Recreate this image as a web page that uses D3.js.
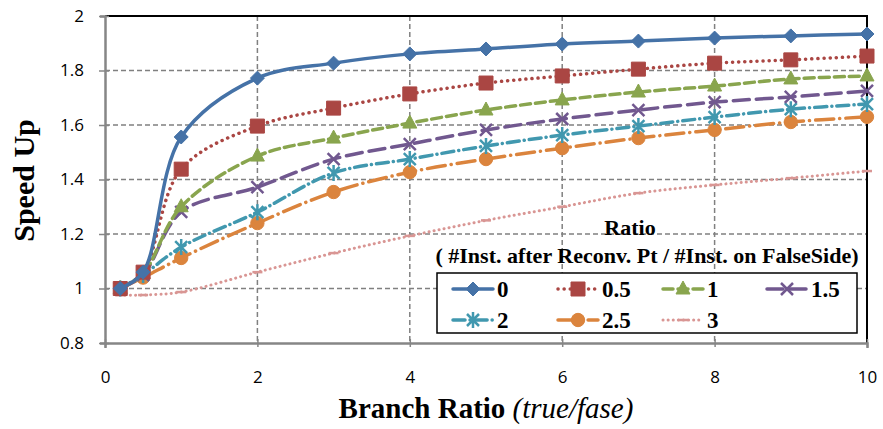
<!DOCTYPE html>
<html>
<head>
<meta charset="utf-8">
<script src="https://cdn.jsdelivr.net/npm/d3@7"></script>
<style>
  body { margin: 0; background: #fff; }
  svg { display: block; }
</style>
</head>
<body>
<script>
// data
const branchRatio = [0.2, 0.5, 1, 2, 3, 4, 5, 6, 7, 8, 9, 10];
const seriesNames = ["0", "0.5", "1", "1.5", "2", "2.5", "3"];
const s0  = [1.0, 1.06, 1.556, 1.772, 1.827, 1.861, 1.879, 1.897, 1.908, 1.919, 1.927, 1.934];
const s05 = [1.0, 1.06, 1.438, 1.596, 1.662, 1.714, 1.754, 1.780, 1.805, 1.827, 1.839, 1.853];
const s1  = [1.0, 1.055, 1.30, 1.486, 1.552, 1.607, 1.655, 1.692, 1.721, 1.743, 1.769, 1.780];
const s15 = [1.0, 1.05, 1.281, 1.372, 1.475, 1.530, 1.582, 1.622, 1.655, 1.684, 1.703, 1.725];
const s2  = [1.0, 1.05, 1.152, 1.280, 1.424, 1.475, 1.523, 1.563, 1.596, 1.629, 1.658, 1.677];
const s25 = [1.0, 1.04, 1.112, 1.240, 1.354, 1.427, 1.475, 1.515, 1.552, 1.582, 1.611, 1.630];
const s3  = [0.975, 0.976, 0.987, 1.06, 1.13, 1.193, 1.25, 1.30, 1.35, 1.38, 1.405, 1.431];
const seriesValues = [s0, s05, s1, s15, s2, s25, s3];
const xTicks = [0, 2, 4, 6, 8, 10];
const yTicks = [0.8, 1, 1.2, 1.4, 1.6, 1.8, 2];

const colors = ["#4572A7", "#AA4643", "#89A54E", "#71588F", "#4198AF", "#DB843D", "#D99694"];
const dashes = ["none", "0.1 6", "10 5", "16 7", "12 5 0.1 5", "18 6 0.1 6", "0.1 5"];
const markers = ["diamond", "square", "triangle", "x", "star", "circle", "dash"];

const W = 883, H = 429;
const plot = { left: 105, right: 867, top: 16, bottom: 343 };
const serif = "'Liberation Serif', 'Times New Roman', serif";

const svg = d3.select("body").append("svg").attr("width", W).attr("height", H);

const x = d3.scaleLinear().domain([0, 10]).range([plot.left, plot.right]);
const y = d3.scaleLinear().domain([0.8, 2]).range([plot.bottom, plot.top]);

// grid
const grid = svg.append("g");
grid.selectAll("line.vg").data(xTicks.filter(d => d > 0 && d < 10)).join("line")
  .attr("x1", d => x(d)).attr("x2", d => x(d))
  .attr("y1", plot.top).attr("y2", plot.bottom)
  .attr("stroke", "#808080").attr("stroke-width", 1.5).attr("stroke-dasharray", "5 3");
grid.selectAll("line.hg").data(yTicks.filter(d => d > 0.8 && d < 2)).join("line")
  .attr("x1", plot.left).attr("x2", plot.right)
  .attr("y1", d => y(d)).attr("y2", d => y(d))
  .attr("stroke", "#808080").attr("stroke-width", 1.5).attr("stroke-dasharray", "5 3");

// top / right border
svg.append("path")
  .attr("d", `M${plot.left},${plot.top}H${plot.right}V${plot.bottom}`)
  .attr("fill", "none").attr("stroke", "#000").attr("stroke-width", 2);

// axes
const xAxis = svg.append("g").attr("transform", `translate(0,${plot.bottom})`)
  .call(d3.axisBottom(x).tickValues(xTicks).tickSize(5).tickPadding(23).tickFormat(d3.format("d")));
const yAxis = svg.append("g").attr("transform", `translate(${plot.left},0)`)
  .call(d3.axisLeft(y).tickValues(yTicks).tickSize(5).tickPadding(16).tickFormat(d => d === 1 || d === 2 ? d : d3.format(".1f")(d)));
[xAxis, yAxis].forEach(a => {
  a.select(".domain").attr("stroke", "#868686").attr("stroke-width", 2.5);
  a.selectAll(".tick line").attr("stroke", "#868686").attr("stroke-width", 1.5);
  a.selectAll(".tick text").attr("fill", "#000").style("font-family", "'Open Sans', sans-serif").style("font-size", "17px");
});
xAxis.selectAll(".tick line").attr("y1", -4).attr("y2", 4);
yAxis.selectAll(".tick line").attr("x1", 4).attr("x2", -6);

// series
const line = d3.line().x(d => x(d[0])).y(d => y(d[1])).curve(d3.curveCatmullRom.alpha(0.5));

function markerPath(type) {
  switch (type) {
    case "diamond": return "M0,-7L7,0L0,7L-7,0Z";
    case "square": return "M-7,-7H7V7H-7Z";
    case "triangle": return "M0,-8L7,5H-7Z";
    case "x": return "M-6,-6L6,6M-6,6L6,-6";
    case "star": return "M-6,-6L6,6M-6,6L6,-6M0,-8V8";
    case "circle": return d3.symbol(d3.symbolCircle, 140)();
    case "dash": return "M-5,0H5";
  }
}

const seriesG = svg.append("g");
seriesValues.slice().reverse().forEach((vals, ri) => {
  const i = seriesValues.length - 1 - ri;
  const pts = branchRatio.map((b, k) => [b, vals[k]]);
  const g = seriesG.append("g");
  g.append("path").datum(pts).attr("d", line)
    .attr("fill", "none").attr("stroke", colors[i])
    .attr("stroke-width", i === 6 ? 3 : 3.5)
    .attr("stroke-linecap", "round")
    .attr("stroke-dasharray", dashes[i] === "none" ? null : dashes[i]);
  const open = markers[i] === "x" || markers[i] === "star" || markers[i] === "dash";
  g.selectAll("path.m").data(pts).join("path").attr("class", "m")
    .attr("transform", d => `translate(${x(d[0])},${y(d[1])})`)
    .attr("d", markerPath(markers[i]))
    .attr("fill", open ? "none" : colors[i])
    .attr("stroke", colors[i])
    .attr("stroke-width", open ? 2.5 : 1);
});

// axis titles
svg.append("text")
  .attr("transform", `translate(34,${(plot.top + plot.bottom) / 2 + 1}) rotate(-90)`)
  .attr("text-anchor", "middle")
  .style("font-family", serif).style("font-weight", "bold").style("font-size", "30px")
  .text("Speed Up");

const xt = svg.append("text")
  .attr("x", 486).attr("y", 418).attr("text-anchor", "middle")
  .style("font-family", serif).style("font-size", "29px");
xt.append("tspan").style("font-weight", "bold").text("Branch Ratio ");
xt.append("tspan").style("font-style", "italic").text("(true/fase)");

// legend
svg.append("text").attr("x", 630).attr("y", 235).attr("text-anchor", "middle")
  .style("font-family", serif).style("font-weight", "bold").style("font-size", "22px")
  .text("Ratio");
svg.append("text").attr("x", 647).attr("y", 263).attr("text-anchor", "middle")
  .style("font-family", serif).style("font-weight", "bold").style("font-size", "22px")
  .text("( #Inst. after Reconv. Pt / #Inst. on FalseSide)");

svg.append("rect").attr("x", 437).attr("y", 273).attr("width", 420).attr("height", 60)
  .attr("fill", "#fff").attr("stroke", "#000").attr("stroke-width", 1.5);

const colX = [453, 558, 663, 767];
const rowY = [289, 320];
seriesNames.forEach((name, i) => {
  const cx = colX[i % 4], cy = rowY[Math.floor(i / 4)];
  const g = svg.append("g");
  g.append("line").attr("x1", cx).attr("x2", cx + 40).attr("y1", cy).attr("y2", cy)
    .attr("stroke", colors[i]).attr("stroke-width", i === 6 ? 3 : 3.5)
    .attr("stroke-linecap", "round")
    .attr("stroke-dasharray", dashes[i] === "none" ? null : dashes[i]);
  const open = markers[i] === "x" || markers[i] === "star" || markers[i] === "dash";
  g.append("path").attr("transform", `translate(${cx + 20},${cy})`)
    .attr("d", markerPath(markers[i]))
    .attr("fill", open ? "none" : colors[i])
    .attr("stroke", colors[i]).attr("stroke-width", open ? 2.5 : 1);
  g.append("text").attr("x", cx + 44).attr("y", cy + 8)
    .style("font-family", serif).style("font-weight", "bold").style("font-size", "23px")
    .text(name);
});
</script>
</body>
</html>
